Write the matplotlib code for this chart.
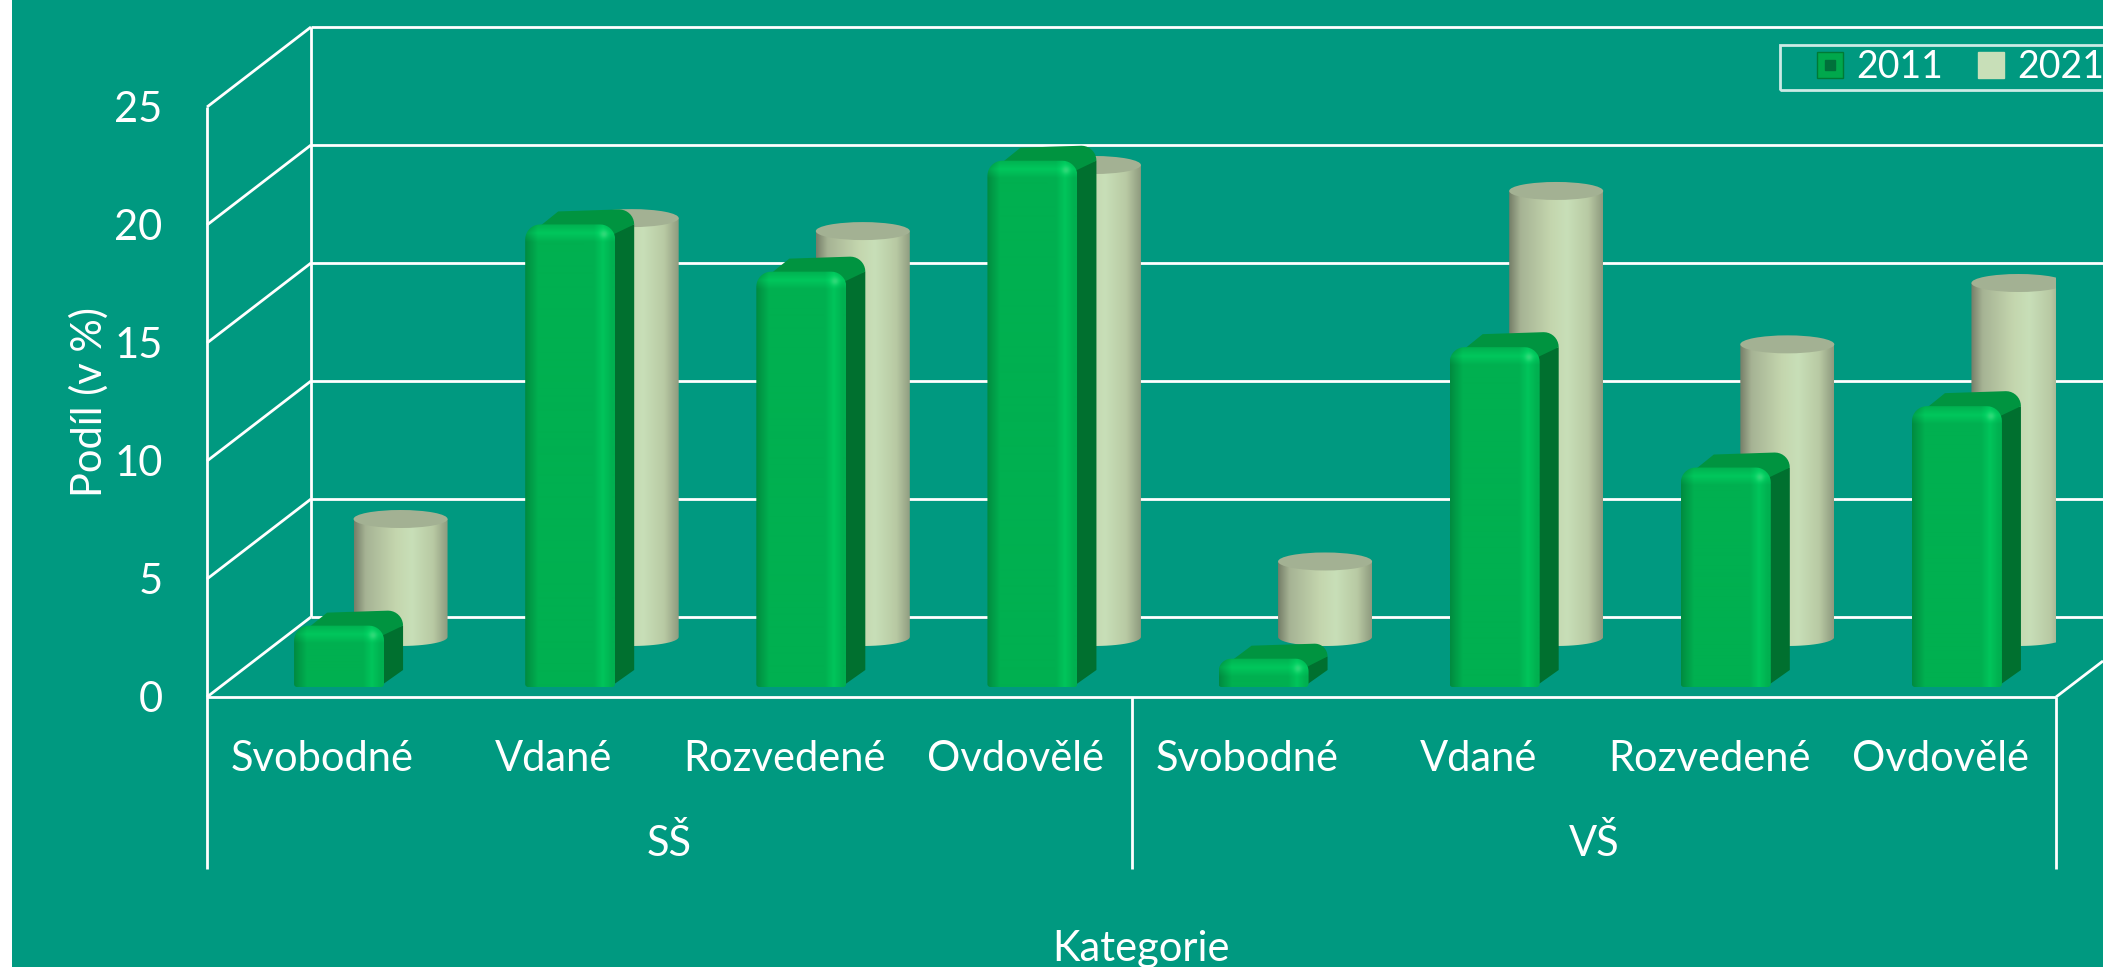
import numpy as np
import matplotlib
matplotlib.use("Agg")
import matplotlib.pyplot as plt
from matplotlib.colors import to_rgb
from matplotlib.lines import Line2D
from matplotlib.patches import Polygon, Ellipse
from matplotlib.legend_handler import HandlerTuple

plt.rcParams['font.family'] = ['Lato', 'DejaVu Sans']

categories = ["Svobodné", "Vdané", "Rozvedené", "Ovdovělé"] * 2
groups = ["SŠ", "VŠ"]
years = ["2011", "2021"]
values_2011 = [2.6, 19.6, 17.6, 22.3, 1.2, 14.4, 9.3, 11.9]
values_2021 = [5.0, 17.75, 17.2, 20.0, 3.2, 18.9, 12.4, 15.0]
yticks = [0, 5, 10, 15, 20, 25]

W, H = 2103, 967
BG = '#009980'
LEFT, RIGHT, BOTTOM, TOP = 207, 2056, 697, 107
PX = 8 / (RIGHT - LEFT)
PY = 25 / (BOTTOM - TOP)
DEPTH_X, DEPTH_Y = 104 * PX, 80 * PY
LW = 2.0
FS = 30

fig = plt.figure(figsize=(W / 100, H / 100), dpi=100, facecolor='white')
bg = fig.add_axes([12 / W, 0, 1 - 12 / W, 1])
bg.set_facecolor(BG)
bg.set_xticks([])
bg.set_yticks([])
for s in bg.spines.values():
    s.set_visible(False)

ax = fig.add_axes([LEFT / W, 1 - BOTTOM / H, (RIGHT - LEFT) / W, (BOTTOM - TOP) / H])
ax.patch.set_alpha(0)
ax.set_xlim(0, 8)
ax.set_ylim(0, 25)
ax.autoscale(False)
for s in ax.spines.values():
    s.set_visible(False)


def wline(xs, ys, z=1):
    ax.plot(xs, ys, color='white', lw=LW, clip_on=False, zorder=z, solid_capstyle='butt')


# walls and floor
far_right = (W - LEFT) * PX
for v in yticks:
    wline([0, DEPTH_X], [v, v + DEPTH_Y])
    wline([DEPTH_X, far_right], [v + DEPTH_Y, v + DEPTH_Y])
wline([DEPTH_X, DEPTH_X], [DEPTH_Y, 25 + DEPTH_Y])
wline([0, 0], [-172 * PY, 25])
wline([0, 8], [0, 0])
wline([4, 4], [-172 * PY, 0])
wline([8, 8], [-172 * PY, 0])
wline([8, 8 + 47 * PX], [0, 36 * PY])


def arc(cx, cy, r, a0, a1, n=10):
    t = np.radians(np.linspace(a0, a1, n))
    return np.c_[cx + r * np.cos(t) * PX, cy + r * np.sin(t) * PY]


def cylinder(cx, v, z):
    # 2021 series: shaded cylinder standing on the back row
    w = 94 * PX
    base = 60 * PY
    ry = 9 * PY
    x0, x1 = cx - w / 2, cx + w / 2
    y0, y1 = base, base + v
    t = np.radians(np.linspace(180, 360, 30))
    low = np.c_[cx + w / 2 * np.cos(t), y0 + ry * np.sin(t)]
    outline = np.vstack([low, [[x1, y1]], [[x0, y1]], low[:1]])
    patch = Polygon(outline, closed=True, fc='none', ec='none', transform=ax.transData)
    ax.add_patch(patch)
    u = np.linspace(0, 1, 100)
    stops_x = [0, 0.12, 0.45, 0.62, 0.85, 1]
    stops_c = ['#767f69', '#a6b394', '#c4d6ae', '#c8dfb8', '#b8c9a3', '#8f9b7f']
    rgb = np.array([to_rgb(c) for c in stops_c])
    img = np.stack([np.interp(u, stops_x, rgb[:, k]) for k in range(3)], axis=-1)[None, :, :]
    im = ax.imshow(img, extent=[x0, x1, y0 - ry, y1], aspect='auto', zorder=z, interpolation='bilinear')
    im.set_clip_path(patch)
    ax.add_patch(Ellipse((cx, y1), w, 2 * ry, fc='#a3b193', ec='none', zorder=z + 0.1))


def bar(cx, v, z):
    # 2011 series: bevelled box in front of the cylinders
    w = 90 * PX
    base = 10 * PY
    x0, x1 = cx - w / 2, cx + w / 2
    y0, y1 = base, base + v
    r = min(15, v / PY * 0.45)
    dx, dy = 19 * PX, 15 * PY
    # side
    side = [(x1 - 5 * PX, y0), (x1 + dx, y0 + 17 * PY), (x1 + dx, y1 + dy - r * PY), (x1 - 6 * PX, y1 - 6 * PY)]
    ax.add_patch(Polygon(side, closed=True, fc='#00702f', ec='none', zorder=z))
    # top
    top = np.vstack([[[x0 + 2 * PX, y1 - 0.8 * r * PY]],
                     [[x0 + 33 * PX, y1 + dy - 2 * PY]],
                     [[x1 + dx - r * PX, y1 + dy]],
                     arc(0, 0, r, 90, 0) + [x1 + dx - r * PX, y1 + dy - r * PY],
                     [[x1 - 3 * PX, y1 - 0.7 * r * PY]]])
    ax.add_patch(Polygon(top, closed=True, fc='#009440', ec='none', zorder=z + 0.1))
    # front face
    rb = 3
    outline = np.vstack([arc(0, 0, r, 180, 90) + [x0 + r * PX, y1 - r * PY],
                         arc(0, 0, r, 90, 0) + [x1 - r * PX, y1 - r * PY],
                         arc(0, 0, rb, 0, -90) + [x1 - rb * PX, y0 + rb * PY],
                         arc(0, 0, rb, -90, -180) + [x0 + rb * PX, y0 + rb * PY]])
    patch = Polygon(outline, closed=True, fc='none', ec='none', transform=ax.transData)
    ax.add_patch(patch)
    nx, ny = 90, max(int(v / PY), 4)
    xx = np.arange(nx)[None, :] + 0.5
    yy = np.arange(ny)[:, None] + 0.5
    base_c = np.array(to_rgb('#00b050'))
    dark = np.array(to_rgb('#008a3f'))
    light = np.array(to_rgb('#00c75c'))
    spot_c = np.array(to_rgb('#30d878'))
    img = np.ones((ny, nx, 3)) * base_c
    left_t = np.clip(1 - xx / 13, 0, 1)
    right_t = np.clip(1 - np.abs(xx - (nx - 12)) / 9, 0, 1)
    top_t = np.clip(1 - np.abs(yy - 9) / 9, 0, 1)
    spot_t = np.exp(-((xx - (nx - 11)) ** 2 + (yy - 10) ** 2) / 14)
    img = img + left_t[..., None] * (dark - base_c)
    img = img + right_t[..., None] * (light - base_c) * 0.9
    img = img + top_t[..., None] * (light - base_c)
    img = img * (1 - spot_t[..., None]) + spot_c * spot_t[..., None]
    im = ax.imshow(np.clip(img, 0, 1), extent=[x0, x1, y0, y1], aspect='auto', zorder=z + 0.2, interpolation='bilinear')
    im.set_clip_path(patch)


centers = np.arange(8) + 0.5
for i in range(8):
    cylinder(centers[i] + 78 * PX, values_2021[i], 3 + i * 0.01)
for i in range(8):
    bar(centers[i] + 16.5 * PX, values_2011[i], 5 + i)

# axis text
ax.set_yticks(yticks)
ax.set_yticklabels([str(v) for v in yticks], color='white', fontsize=FS)
ax.set_xticks(centers)
ax.set_xticklabels(categories, color='white', fontsize=FS)
ax.tick_params(axis='both', length=0)
ax.tick_params(axis='y', pad=32)
ax.tick_params(axis='x', pad=31)
for x, g in zip([2, 6], groups):
    ax.text(x, -147 * PY, g, color='white', fontsize=FS, ha='center', va='center')
ax.set_xlabel("Kategorie", color='white', fontsize=FS, va='center')
ax.xaxis.set_label_coords((1141 - LEFT) / (RIGHT - LEFT), (BOTTOM - 949) / (BOTTOM - TOP), transform=ax.transAxes)
ax.set_ylabel("Podíl (v %)", color='white', fontsize=FS, va='center')
ax.yaxis.set_label_coords((89 - LEFT) / (RIGHT - LEFT), (BOTTOM - 402) / (BOTTOM - TOP), transform=ax.transAxes)

# legend runs off the right edge, as in the source
h1 = (Line2D([], [], ls='', marker='s', ms=19, mfc='#00a84c', mec='#007a35', mew=1),
      Line2D([], [], ls='', marker='s', ms=7, mfc='#00703a', mec='#00703a'))
h2 = Line2D([], [], ls='', marker='s', ms=19, mfc='#c8dfb8', mec='#c8dfb8')
leg = fig.legend([h1, h2], years, ncols=2, loc='upper left',
                 bbox_to_anchor=(1780 / W, 1 - 45 / H), bbox_transform=fig.transFigure,
                 frameon=True, fancybox=False, facecolor='none', edgecolor='white',
                 labelcolor='white', fontsize=27, borderaxespad=0,
                 borderpad=0.12, handlelength=2.43, handletextpad=-0.52, columnspacing=0.08,
                 handler_map={tuple: HandlerTuple(ndivide=1, pad=0)})
leg.get_frame().set_linewidth(LW)
leg.set_zorder(30)

fig.savefig('out.png', dpi=100, facecolor='white')
